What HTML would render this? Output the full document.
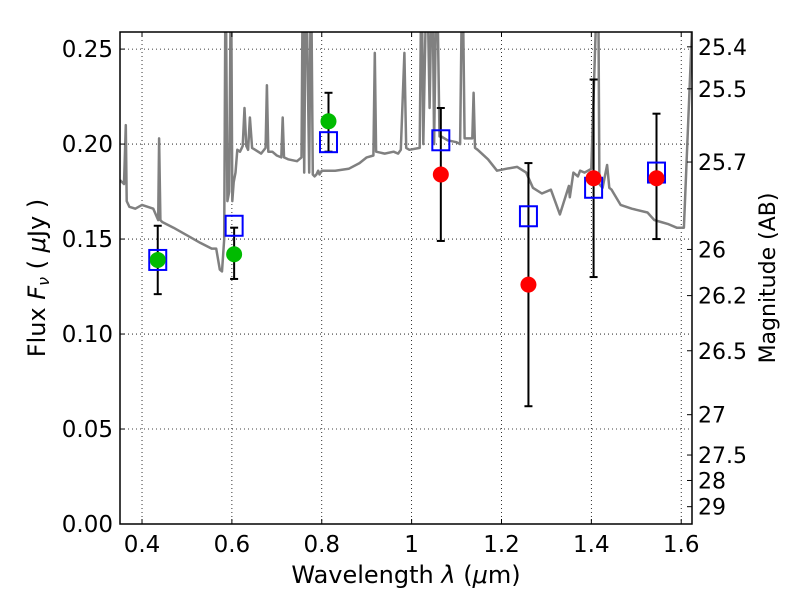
<!DOCTYPE html>
<html><head><meta charset="utf-8"><style>
body{margin:0;background:#fff;font-family:"Liberation Sans","DejaVu Sans",sans-serif}
svg text{font-family:"DejaVu Sans","Liberation Sans",sans-serif;fill:#000}
</style></head><body>
<svg id="chart" width="800" height="600" xmlns="http://www.w3.org/2000/svg">
<defs><clipPath id="clip"><rect x="120" y="32" width="572" height="492"/></clipPath></defs>
<rect width="800" height="600" fill="#fff"/>
<g id="grid"></g>
<g id="spec" clip-path="url(#clip)"></g>
<g id="marks" clip-path="url(#clip)"></g>
<rect x="120" y="32" width="572" height="492" fill="none" stroke="#000" stroke-width="1.5"/>
<g id="axes"></g>
<text x="406" y="583" font-size="24" text-anchor="middle">Wavelength  <tspan font-style="italic">λ</tspan> (<tspan font-style="italic">μ</tspan>m)</text>
<text transform="translate(45,278) rotate(-90)" font-size="24" text-anchor="middle">Flux  <tspan font-style="italic">F<tspan font-size="16" dy="4">ν</tspan></tspan><tspan dy="-4">  ( </tspan><tspan font-style="italic">μ</tspan>Jy )</text>
<text transform="translate(775,278) rotate(-90)" font-size="22" text-anchor="middle">Magnitude (AB)</text>
</svg>
<script>
const xTicks=[0.4,0.6,0.8,1,1.2,1.4,1.6];
const xTickLabels=["0.4","0.6","0.8","1","1.2","1.4","1.6"];
const yTicks=[0,0.05,0.1,0.15,0.2,0.25];
const yTickLabels=["0.00","0.05","0.10","0.15","0.20","0.25"];
const magTicks=[25.4,25.5,25.7,26,26.2,26.5,27,27.5,28,29];
const magTickLabels=["25.4","25.5","25.7","26","26.2","26.5","27","27.5","28","29"];
const specWave=[0.351,0.360,0.364,0.366,0.372,0.385,0.400,0.425,0.436,0.438,0.441,0.445,0.47,0.50,0.53,0.555,0.565,0.573,0.578,0.583,0.586,0.590,0.594,0.598,0.601,0.604,0.608,0.612,0.618,0.624,0.628,0.632,0.636,0.640,0.645,0.652,0.665,0.675,0.678,0.681,0.690,0.700,0.710,0.713,0.716,0.725,0.745,0.755,0.758,0.761,0.765,0.772,0.776,0.780,0.784,0.788,0.792,0.795,0.800,0.83,0.86,0.884,0.90,0.915,0.918,0.921,0.94,0.96,0.970,0.976,0.984,0.988,0.995,1.018,1.022,1.026,1.034,1.040,1.046,1.050,1.056,1.062,1.066,1.08,1.10,1.108,1.113,1.118,1.125,1.135,1.138,1.141,1.147,1.17,1.19,1.21,1.235,1.255,1.27,1.29,1.31,1.33,1.35,1.352,1.36,1.37,1.375,1.385,1.40,1.415,1.418,1.421,1.425,1.435,1.44,1.445,1.45,1.465,1.49,1.525,1.54,1.555,1.57,1.59,1.606,1.622,1.63];
const specFlux=[0.181,0.179,0.21,0.17,0.167,0.166,0.168,0.166,0.16,0.203,0.16,0.159,0.156,0.152,0.148,0.145,0.145,0.134,0.133,0.15,0.30,0.17,0.175,0.30,0.17,0.18,0.185,0.197,0.196,0.199,0.219,0.199,0.197,0.214,0.198,0.197,0.195,0.198,0.231,0.196,0.196,0.194,0.193,0.214,0.193,0.192,0.191,0.193,0.30,0.185,0.30,0.185,0.30,0.184,0.183,0.184,0.186,0.184,0.186,0.186,0.187,0.190,0.193,0.194,0.248,0.196,0.195,0.196,0.195,0.197,0.248,0.198,0.197,0.198,0.30,0.2,0.30,0.219,0.30,0.2,0.30,0.204,0.204,0.202,0.201,0.200,0.30,0.203,0.203,0.203,0.227,0.198,0.197,0.192,0.186,0.187,0.188,0.185,0.177,0.174,0.176,0.163,0.178,0.172,0.185,0.183,0.186,0.185,0.187,0.30,0.179,0.178,0.177,0.189,0.177,0.176,0.174,0.168,0.166,0.164,0.160,0.159,0.158,0.156,0.156,0.249,0.30];
const modelWave=[0.435,0.605,0.815,1.065,1.26,1.405,1.545];
const modelFlux=[0.139,0.157,0.201,0.202,0.162,0.177,0.185];
const greenWave=[0.435,0.605,0.815];
const greenFlux=[0.139,0.142,0.212];
const greenLo=[0.121,0.129,0.196];
const greenHi=[0.157,0.156,0.227];
const redWave=[1.065,1.26,1.405,1.545];
const redFlux=[0.184,0.126,0.182,0.182];
const redLo=[0.149,0.062,0.130,0.150];
const redHi=[0.219,0.190,0.234,0.216];

const X0=120,X1=692,Y0=524,Y1=32,XMIN=0.351,XMAX=1.624,YMIN=0,YMAX=0.259;
const sx=v=>X0+(v-XMIN)/(XMAX-XMIN)*(X1-X0);
const sy=v=>Y0-(v-YMIN)/(YMAX-YMIN)*(Y0-Y1);
const magToFlux=m=>Math.pow(10,(23.9-m)/2.5);
const NS="http://www.w3.org/2000/svg";
function mk(tag,attrs,parent){const e=document.createElementNS(NS,tag);for(const k in attrs)e.setAttribute(k,attrs[k]);parent.appendChild(e);return e;}
const grid=document.getElementById('grid'),axes=document.getElementById('axes'),spec=document.getElementById('spec'),marks=document.getElementById('marks');
xTicks.forEach((t,i)=>{const x=sx(t);
 const g=mk('line',{x1:x,x2:x,y1:Y1,y2:Y0,stroke:'#000','stroke-width':0.8,'stroke-dasharray':'1,3'},grid);
 
 mk('line',{x1:x,x2:x,y1:Y0,y2:Y0-5,stroke:'#000'},axes);mk('line',{x1:x,x2:x,y1:Y1,y2:Y1+5,stroke:'#000'},axes);
 const tx=mk('text',{x:x,y:Y0+28,'font-size':23,'text-anchor':'middle'},axes);tx.textContent=xTickLabels[i];
 });
yTicks.forEach((t,i)=>{const y=sy(t);
 const g=mk('line',{x1:X0,x2:X1,y1:y,y2:y,stroke:'#000','stroke-width':0.8,'stroke-dasharray':'1,3'},grid);
 
 mk('line',{x1:X0,x2:X0+5,y1:y,y2:y,stroke:'#000'},axes);
 const tx=mk('text',{x:X0-7,y:y+8,'font-size':23,'text-anchor':'end'},axes);tx.textContent=yTickLabels[i];
 });
magTicks.forEach((m,i)=>{const y=sy(magToFlux(m));
 mk('line',{x1:X1,x2:X1-5,y1:y,y2:y,stroke:'#000'},axes);
 const tx=mk('text',{x:X1+6,y:y+8,'font-size':22},axes);tx.textContent=magTickLabels[i];
 });
const pts=specWave.map((w,i)=>sx(w).toFixed(1)+','+sy(specFlux[i]).toFixed(1)).join(' ');
const pl=mk('polyline',{points:pts,fill:'none',stroke:'#808080','stroke-width':2.5,'stroke-linejoin':'round'},spec);

function errs(ws,lo,hi){ws.forEach((w,i)=>{const x=sx(w);
 const l=mk('line',{x1:x,x2:x,y1:sy(lo[i]),y2:sy(hi[i]),stroke:'#000','stroke-width':2},marks);
 
 mk('line',{x1:x-4,x2:x+4,y1:sy(lo[i]),y2:sy(lo[i]),stroke:'#000','stroke-width':2},marks);
 mk('line',{x1:x-4,x2:x+4,y1:sy(hi[i]),y2:sy(hi[i]),stroke:'#000','stroke-width':2},marks);});}
errs(greenWave,greenLo,greenHi);errs(redWave,redLo,redHi);
modelWave.forEach((w,i)=>{const r=mk('rect',{x:sx(w)-8.5,y:sy(modelFlux[i])-10,width:17,height:20,fill:'none',stroke:'#0000ff','stroke-width':2},marks);
 });
greenWave.forEach((w,i)=>{const c=mk('circle',{cx:sx(w),cy:sy(greenFlux[i]),r:8,fill:'#00bb00'},marks);
 });
redWave.forEach((w,i)=>{const c=mk('circle',{cx:sx(w),cy:sy(redFlux[i]),r:8,fill:'#ff0000'},marks);
 });
</script>
</body></html>
